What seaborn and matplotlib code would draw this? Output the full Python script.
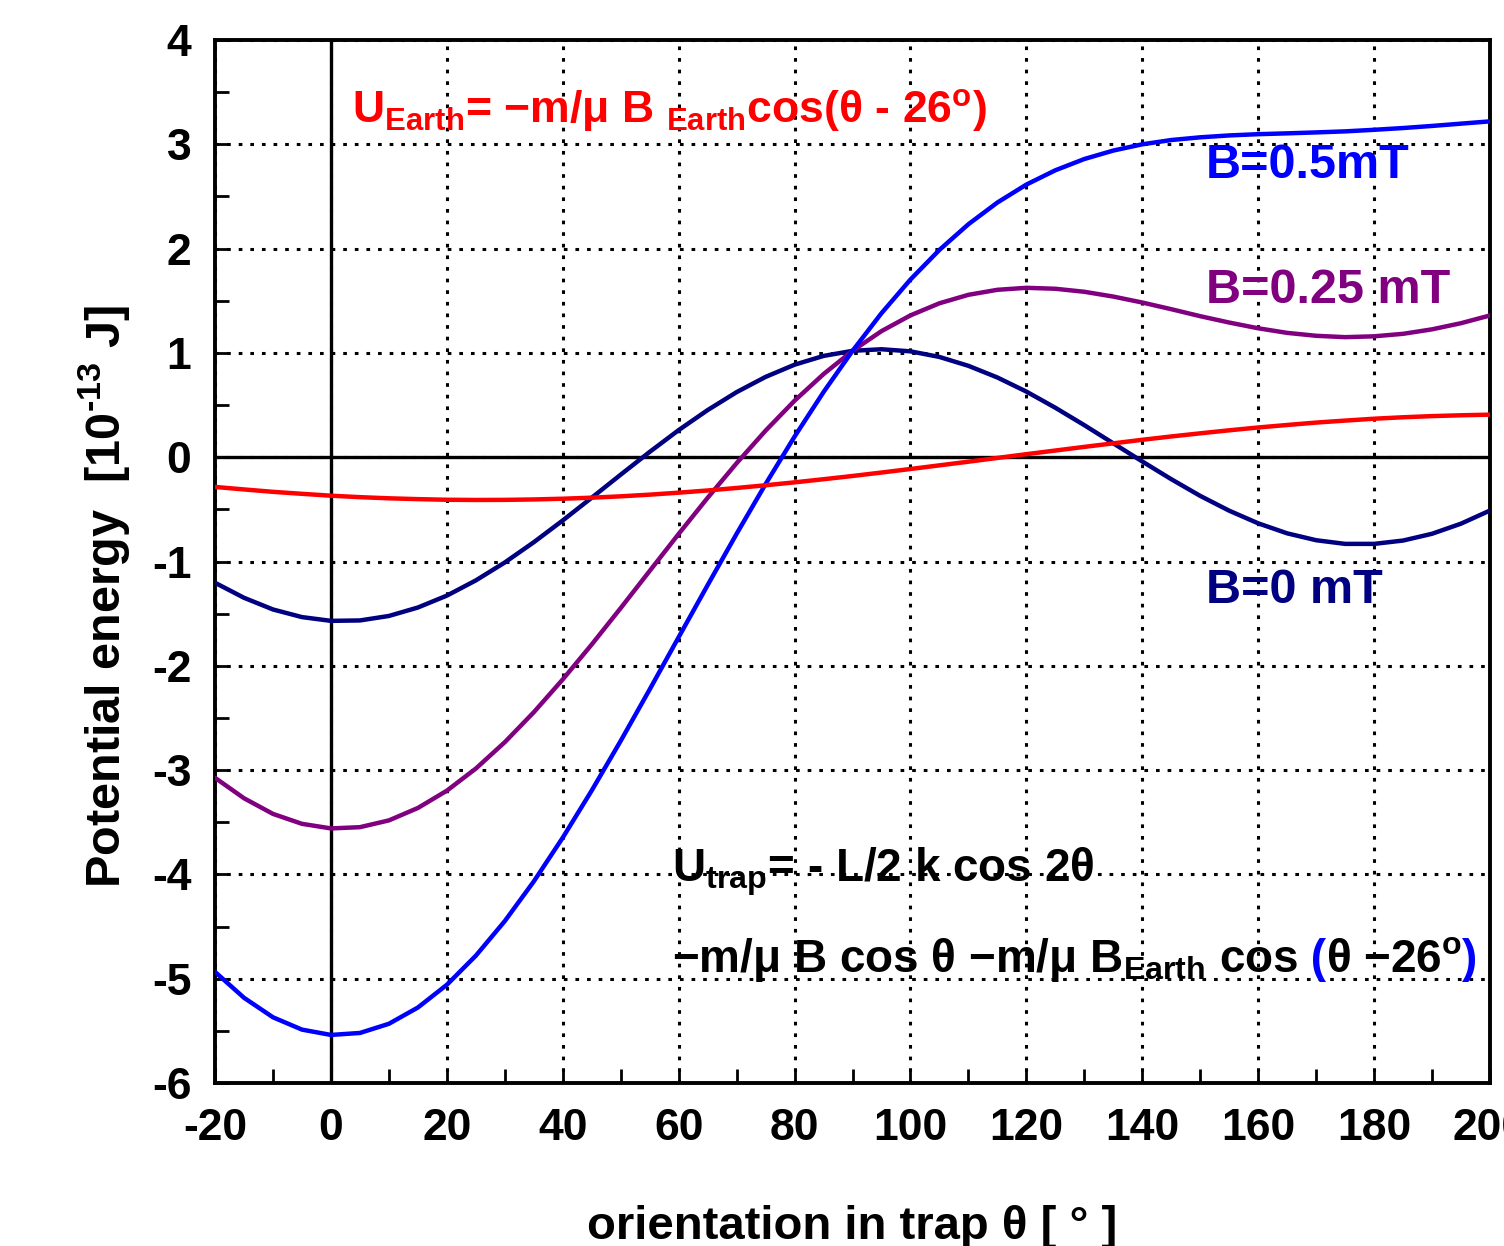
import matplotlib
matplotlib.use("Agg")
import matplotlib.pyplot as plt
import matplotlib.transforms as mtransforms
from matplotlib.ticker import MultipleLocator
import pandas as pd
import seaborn as sns

# orientation in trap (degrees)
theta = [-20, -15, -10, -5, 0, 5, 10, 15, 20, 25, 30, 35, 40, 45, 50, 55, 60, 65,
         70, 75, 80, 85, 90, 95, 100, 105, 110, 115, 120, 125, 130, 135, 140, 145,
         150, 155, 160, 165, 170, 175, 180, 185, 190, 195, 200]

# potential energy [1e-13 J]
u_b0 = [-1.204, -1.348, -1.460, -1.533, -1.569, -1.565, -1.522, -1.441, -1.327,
        -1.181, -1.009, -0.815, -0.606, -0.388, -0.167, 0.051, 0.260, 0.452,
        0.624, 0.770, 0.887, 0.971, 1.020, 1.035, 1.015, 0.961, 0.876, 0.764,
        0.629, 0.474, 0.307, 0.133, -0.041, -0.211, -0.371, -0.513, -0.634,
        -0.730, -0.796, -0.831, -0.831, -0.799, -0.734, -0.637, -0.511]

u_b025 = [-3.074, -3.270, -3.420, -3.515, -3.559, -3.547, -3.482, -3.363, -3.197,
          -2.985, -2.732, -2.445, -2.130, -1.795, -1.446, -1.090, -0.735, -0.389,
          -0.057, 0.255, 0.542, 0.797, 1.020, 1.209, 1.360, 1.476, 1.557, 1.605,
          1.624, 1.615, 1.586, 1.540, 1.483, 1.419, 1.352, 1.291, 1.236, 1.192,
          1.164, 1.151, 1.159, 1.183, 1.226, 1.285, 1.359]

u_b05 = [-4.935, -5.183, -5.370, -5.488, -5.539, -5.520, -5.432, -5.276, -5.058,
         -4.779, -4.447, -4.067, -3.647, -3.195, -2.719, -2.226, -1.725, -1.226,
         -0.734, -0.257, 0.198, 0.625, 1.020, 1.381, 1.704, 1.988, 2.234, 2.442,
         2.614, 2.751, 2.859, 2.940, 3.000, 3.041, 3.067, 3.085, 3.097, 3.105,
         3.114, 3.124, 3.139, 3.156, 3.176, 3.198, 3.220]

u_earth = [-0.285, -0.309, -0.332, -0.351, -0.369, -0.383, -0.394, -0.402, -0.408,
           -0.410, -0.409, -0.405, -0.398, -0.388, -0.375, -0.359, -0.340, -0.319,
           -0.295, -0.269, -0.241, -0.211, -0.180, -0.147, -0.113, -0.078, -0.043,
           -0.007, 0.029, 0.064, 0.099, 0.133, 0.167, 0.199, 0.229, 0.258, 0.285,
           0.309, 0.332, 0.351, 0.369, 0.383, 0.394, 0.402, 0.408]

curve_names = ["B=0 mT", "B=0.25 mT", "B=0.5mT", "Earth"]
curve_colors = {"B=0 mT": "#000080", "B=0.25 mT": "#800080",
                "B=0.5mT": "#0000ff", "Earth": "#ff0000"}

BOLD = ["Liberation Sans", "DejaVu Sans"]


def draw_pieces(ax, x, y, pieces, size):
    """Write coloured text pieces one after another on a common baseline."""
    fig = ax.figure
    renderer = fig.canvas.get_renderer()
    offset = 0.0
    for s, color in pieces:
        tr = mtransforms.offset_copy(ax.transData, fig=fig, x=offset, y=0, units="dots")
        t = ax.text(x, y, s, color=color, transform=tr, ha="left", va="baseline",
                    fontsize=size, fontweight="bold", family=BOLD)
        offset += t.get_window_extent(renderer).width


def main():
    df = pd.concat([
        pd.DataFrame({"theta": theta, "U": vals, "curve": name})
        for name, vals in zip(curve_names, [u_b0, u_b025, u_b05, u_earth])
    ])

    sns.set_style("white")
    plt.rcParams["font.family"] = BOLD
    plt.rcParams["font.weight"] = "bold"
    plt.rcParams["axes.unicode_minus"] = False
    plt.rcParams["mathtext.fontset"] = "custom"
    plt.rcParams["mathtext.rm"] = "Liberation Sans:bold"
    plt.rcParams["mathtext.bf"] = "Liberation Sans:bold"
    for key in ["text.color", "axes.labelcolor", "xtick.color", "ytick.color"]:
        plt.rcParams[key] = "black"

    fig = plt.figure(figsize=(15.04, 12.46), dpi=100)
    ax = fig.add_axes([0.143, 0.1308, 0.8477, 0.8371])

    ax.axhline(0, color="black", linewidth=2.4, zorder=1)
    ax.axvline(0, color="black", linewidth=2.4, zorder=1)

    sns.lineplot(data=df, x="theta", y="U", hue="curve", hue_order=curve_names,
                 palette=curve_colors, linewidth=3.2, legend=False, sort=False,
                 ax=ax, zorder=3)

    ax.set_xlim(-20, 200)
    ax.set_ylim(-6, 4)
    ax.xaxis.set_major_locator(MultipleLocator(20))
    ax.xaxis.set_minor_locator(MultipleLocator(10))
    ax.yaxis.set_major_locator(MultipleLocator(1))
    ax.yaxis.set_minor_locator(MultipleLocator(0.5))
    ax.grid(True, which="major", color="black", linestyle=(0, (1.2, 2.6)), linewidth=2.2)
    ax.set_axisbelow(True)
    ax.tick_params(which="both", direction="in", length=10, width=2,
                   bottom=True, left=True, top=False, right=False, labelsize=32,
                   labelcolor="black", color="black")
    ax.tick_params(axis="x", which="major", pad=18)
    ax.tick_params(axis="y", which="major", pad=17)
    for sp in ax.spines.values():
        sp.set_linewidth(2.8)
        sp.set_color("black")

    ax.set_xlabel("orientation in trap θ [ ° ]", fontsize=34, fontweight="bold", labelpad=40)
    ax.set_ylabel("Potential energy  [10$^{\\rm \u2010 13}$ J]", fontsize=35,
                  fontweight="bold", labelpad=14)
    ax.yaxis.label.set_y(0.466)

    # curve labels
    ax.text(151, 2.80, "B=0.5mT", color="#0000ff", fontsize=35, fontweight="bold", va="center")
    ax.text(151, 1.60, "B=0.25 mT", color="#800080", fontsize=35, fontweight="bold", va="center")
    ax.text(151, -1.28, "B=0 mT", color="#000080", fontsize=35, fontweight="bold", va="center")

    # formulas
    draw_pieces(ax, 3.6, 3.21,
                [("U$_{\\rm Earth}$= −m/μ B $_{\\rm Earth}$cos(θ - 26$^{\\rm o}$)", "#ff0000")], 32)
    draw_pieces(ax, 58.8, -4.07, [("U$_{\\rm trap}$= - L/2 k cos 2θ", "black")], 33)
    draw_pieces(ax, 58.8, -4.94,
                [("−m/μ B cos θ −m/μ B$_{\\rm Earth}$ cos", "black"),
                 (" (", "#0000ff"),
                 ("θ −26$^{\\rm o}$", "black"),
                 (")", "#0000ff")], 33)

    fig.savefig("out.png", dpi=100)


if __name__ == "__main__":
    main()
